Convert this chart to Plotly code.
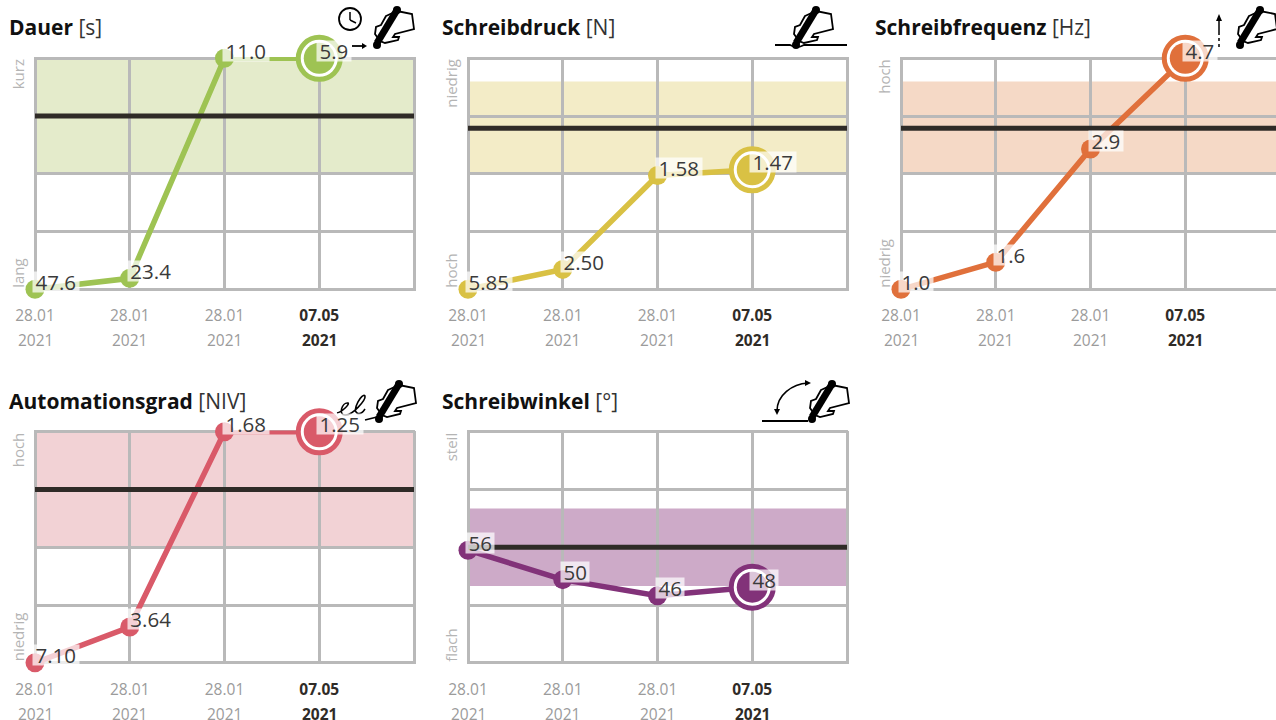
import plotly.graph_objects as go

W, H = 1276, 720

# ---- data -------------------------------------------------------------
titles = ["Dauer", "Schreibdruck", "Schreibfrequenz", "Automationsgrad", "Schreibwinkel"]
units = ["[s]", "[N]", "[Hz]", "[NIV]", "[°]"]
top_words = ["kurz", "niedrig", "hoch", "hoch", "steil"]
bottom_words = ["lang", "hoch", "niedrig", "niedrig", "flach"]

dates = ["28.01", "28.01", "28.01", "07.05"]
years = ["2021", "2021", "2021", "2021"]

dauer_labels = ["47.6", "23.4", "11.0", "5.9"]
druck_labels = ["5.85", "2.50", "1.58", "1.47"]
freq_labels = ["1.0", "1.6", "2.9", "4.7"]
auto_labels = ["7.10", "3.64", "1.68", "1.25"]
winkel_labels = ["56", "50", "46", "48"]

# positions on the chart's normalised 0-4 score scale
dauer_pos = [0.0, 0.19, 4.0, 4.0]
druck_pos = [0.0, 0.345, 1.97, 2.07]
freq_pos = [0.0, 0.47, 2.43, 4.0]
auto_pos = [0.0, 0.62, 4.0, 4.0]
winkel_pos = [1.95, 1.44, 1.16, 1.31]

band_low = [2.0, 2.0, 2.0, 2.0, 1.33]
band_high = [4.0, 3.6, 3.6, 4.0, 2.67]
reference = [3.0, 2.79, 2.79, 3.0, 2.0]

all_labels = [dauer_labels, druck_labels, freq_labels, auto_labels, winkel_labels]
all_pos = [dauer_pos, druck_pos, freq_pos, auto_pos, winkel_pos]

line_colors = ["#9ec353", "#d9c144", "#e0703b", "#d95a69", "#823279"]
band_colors = ["#e4ebcb", "#f3ecc7", "#f5d9c6", "#f2d2d5", "#cdaac8"]

# ---- layout constants ---------------------------------------------------
GRID = "#b9b9b9"
DARK = "#2f2b27"
GRAY = "#9b9b9b"
FONT = "Open Sans"
lefts = [35, 468, 901, 35, 468]      # pixel of x = 0
tops = [58.3, 58.3, 58.3, 431.8, 431.8]  # pixel of y = 4
STEP = 94.75
UNIT = 57.75
PAD = 1.3  # plot area overshoots the 0-4 frame so the edge grid lines stay fully visible


def fx(x):
    return x / W


def fy(y):
    return (H - y) / H


def pth(cmds):
    """Build an SVG path in paper coordinates from pixel commands."""
    out = []
    for c in cmds:
        if isinstance(c, str):
            out.append(c)
        else:
            out.append(f"{fx(c[0]):.5f},{fy(c[1]):.5f}")
    return " ".join(out)


fig = go.Figure()
layout = {}
annotations = []
shapes = []


def text_w(s):
    return sum(5.4 if ch == "." else 11.7 for ch in s)


for i in range(5):
    n = "" if i == 0 else str(i + 1)
    xa, ya = "x" + n, "y" + n
    left, top = lefts[i], tops[i]
    PW, PH = 4 * STEP, 4 * UNIT
    dom_l = left - PAD
    dom_r = min(left + PW + PAD, W)
    dom_t = top - PAD
    dom_b = top + PH + PAD
    color = line_colors[i]
    pos = all_pos[i]
    xs = list(range(len(pos)))

    def dx(px):
        return (px - dom_l) / (dom_r - dom_l)

    def dy(py):
        return 1 - (py - dom_t) / (dom_b - dom_t)

    dom = dict(xref=f"{xa} domain", yref=f"{ya} domain", showarrow=False, borderpad=0)

    fig.add_trace(go.Scatter(x=xs, y=pos, xaxis=xa, yaxis=ya, mode="lines+markers",
                             line=dict(color=color, width=5.5),
                             marker=dict(color=color, size=19),
                             cliponaxis=False, hoverinfo="skip", showlegend=False))
    # highlighted last reading: outer ring, white gap, filled core
    fig.add_trace(go.Scatter(x=xs[-1:], y=pos[-1:], xaxis=xa, yaxis=ya, mode="markers",
                             marker=dict(color="white", size=42, line=dict(color=color, width=5)),
                             cliponaxis=False, hoverinfo="skip", showlegend=False))
    fig.add_trace(go.Scatter(x=xs[-1:], y=pos[-1:], xaxis=xa, yaxis=ya, mode="markers",
                             marker=dict(color=color, size=31),
                             cliponaxis=False, hoverinfo="skip", showlegend=False))

    layout["xaxis" + n] = dict(
        domain=[fx(dom_l), fx(dom_r)],
        range=[-PAD / STEP, (dom_r - left) / STEP], anchor=ya,
        tickmode="array", tickvals=[0, 1, 2, 3, 4],
        ticktext=[f'<span style="color:{GRAY}">{d}</span>' for d in dates[:3]]
        + [f'<b><span style="color:{DARK}">{dates[3]}</span></b>', ""],
        tickfont=dict(family=FONT, size=15.5, color=GRAY), ticks="", ticklabelstandoff=14,
        showgrid=True, gridcolor=GRID, gridwidth=2.6, zeroline=False, showline=False,
        fixedrange=True)
    layout["yaxis" + n] = dict(
        domain=[fy(dom_b), fy(dom_t)], range=[-PAD / UNIT, 4 + PAD / UNIT], anchor=xa,
        tickmode="array", tickvals=[0, 1, 2, 3, 4], showticklabels=False, ticks="",
        showgrid=True, gridcolor=GRID, gridwidth=2.6, zeroline=False, showline=False,
        fixedrange=True)

    shapes.append(dict(type="rect", layer="below", xref=xa, x0=0, x1=4, yref=ya,
                       y0=band_low[i], y1=band_high[i], fillcolor=band_colors[i], line_width=0))
    shapes.append(dict(type="line", layer="above", xref=xa, x0=0, x1=4, yref=ya,
                       y0=reference[i], y1=reference[i], line=dict(color=DARK, width=5)))

    # panel title
    annotations.append(dict(
        text=f'<b><span style="color:#111111">{titles[i]}</span></b> '
             f'<span style="color:#333333">{units[i]}</span>',
        x=dx(left - 27), y=dy(top - 31), xanchor="left", yanchor="middle",
        font=dict(family=FONT, size=21), **dom))
    # scale-end words
    annotations.append(dict(text=top_words[i], textangle=-90,
                            x=dx(left - 17), y=dy(top), xanchor="center", yanchor="top",
                            font=dict(family=FONT, size=15, color="#b4b4b4"), **dom))
    annotations.append(dict(text=bottom_words[i], textangle=-90,
                            x=dx(left - 17), y=dy(top + PH), xanchor="center", yanchor="bottom",
                            font=dict(family=FONT, size=15, color="#b4b4b4"), **dom))
    # year row under the date ticks
    for k, yr in enumerate(years):
        last = k == len(years) - 1
        annotations.append(dict(text=f"<b>{yr}</b>" if last else yr, xref=xa, yref=f"{ya} domain",
                                x=k, y=dy(top + PH + 51), xanchor="center", yanchor="middle",
                                showarrow=False, borderpad=0,
                                font=dict(family=FONT, size=15.5, color=DARK if last else GRAY)))
    # value labels on translucent boxes
    for k, lab in enumerate(all_labels[i]):
        annotations.append(dict(text=lab, xref=xa, yref=ya, x=k, y=pos[k], xanchor="left",
                                yanchor="middle", xshift=-3, yshift=7.5, showarrow=False,
                                width=text_w(lab) + 5, height=20, borderpad=0, align="center",
                                bgcolor="rgba(255,255,255,0.72)",
                                font=dict(family=FONT, size=20.5, color="#3a3a3a")))


# ---- pictograms -----------------------------------------------------------
def hand(ox, oy):
    outline = [(14, 12), (25, 7), (40, 10), (42, 25), (23, 30), (21, 33), (27, 33), (26, 36),
               (13, 39), (8, 37), (3, 30), (4, 23), (9, 21)]
    cmds = []
    for j, (a, b) in enumerate(outline):
        cmds += ["M" if j == 0 else "L", (ox + a, oy + b)]
    cmds.append("Z")
    shapes.append(dict(type="path", xref="paper", yref="paper", path=pth(cmds),
                       fillcolor="white", line=dict(color="black", width=1.8), layer="above"))
    shapes.append(dict(type="line", xref="paper", yref="paper", layer="above",
                       x0=fx(ox + 5), y0=fy(oy + 39), x1=fx(ox + 25), y1=fy(oy + 6),
                       line=dict(color="black", width=7)))
    shapes.append(dict(type="circle", xref="paper", yref="paper", layer="above",
                       x0=fx(ox + 21), x1=fx(ox + 29), y0=fy(oy + 2), y1=fy(oy + 10),
                       fillcolor="black", line_width=0))
    shapes.append(dict(type="circle", xref="paper", yref="paper", layer="above",
                       x0=fx(ox + 1), x1=fx(ox + 9), y0=fy(oy + 37), y1=fy(oy + 45),
                       fillcolor="black", line_width=0))


def seg(x0, y0, x1, y1, width=1.8, dash=None):
    shapes.append(dict(type="line", xref="paper", yref="paper", layer="above",
                       x0=fx(x0), y0=fy(y0), x1=fx(x1), y1=fy(y1),
                       line=dict(color="black", width=width, dash=dash or "solid")))


def tri(p1, p2, p3):
    shapes.append(dict(type="path", xref="paper", yref="paper", layer="above",
                       path=pth(["M", p1, "L", p2, "L", p3, "Z"]), fillcolor="black", line_width=0))


# Dauer: clock + arrow
hand(372, 4)
shapes.append(dict(type="circle", xref="paper", yref="paper", layer="above",
                   x0=fx(339), x1=fx(361), y0=fy(8), y1=fy(30), fillcolor="white",
                   line=dict(color="black", width=1.8)))
seg(350, 12, 350, 20, 1.5)
seg(350, 20, 356, 23, 1.5)
seg(352, 46, 363, 46, 1.8)
tri((367, 46), (362, 43), (362, 49))

# Schreibdruck: hand on a line
hand(791, 4)
shapes.append(dict(type="path", xref="paper", yref="paper", layer="above",
                   path=pth(["M", (775, 45), "L", (790, 45), "Q", (797, 49), (804, 45), "L", (847, 45)]),
                   line=dict(color="black", width=2)))

# Schreibfrequenz: hand + upward arrow
hand(1235, 4)
seg(1219, 20, 1219, 32, 1.5)
seg(1219, 32, 1219, 47, 1.5, "dot")
tri((1219, 14), (1216, 21), (1222, 21))

# Automationsgrad: hand + handwriting
hand(374, 378)
shapes.append(dict(type="path", xref="paper", yref="paper", layer="above",
                   path=pth(["M", (337, 413), "C", (342, 412), (350, 404), (348, 403),
                             "C", (342, 402), (338, 415), (345, 415),
                             "C", (352, 416), (366, 400), (365, 396),
                             "C", (362, 392), (352, 410), (357, 413),
                             "C", (360, 415), (363, 412), (365, 409)]),
                   line=dict(color="black", width=1.6)))
seg(365, 420, 377, 417, 1.6)

# Schreibwinkel: hand + angle arc
hand(807, 378)
shapes.append(dict(type="path", xref="paper", yref="paper", layer="above",
                   path=pth(["M", (777, 411), "C", (777, 395), (792, 384), (808, 383)]),
                   line=dict(color="black", width=1.6)))
tri((811, 383), (805, 380), (805, 386))
tri((777, 415), (774, 409), (780, 409))
seg(762, 421, 808, 421, 2)

fig.update_layout(width=W, height=H, margin=dict(l=0, r=0, t=0, b=0, autoexpand=False),
                  paper_bgcolor="white", plot_bgcolor="white",
                  showlegend=False, annotations=annotations, shapes=shapes,
                  font=dict(family=FONT), **layout)

fig.write_html("out.html", config={"displayModeBar": False},
               post_script="document.body.style.margin='0';document.body.style.overflow='hidden';")
